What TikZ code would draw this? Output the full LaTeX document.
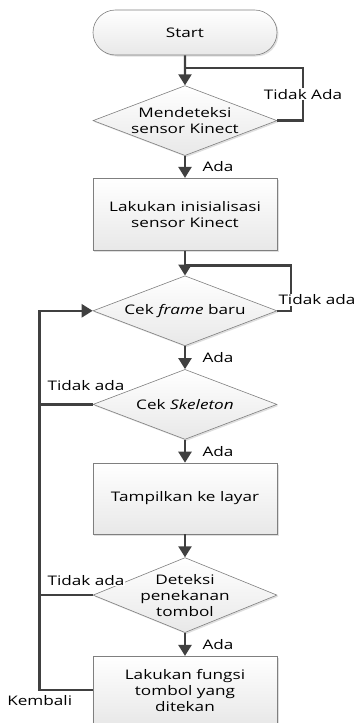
\documentclass[tikz,border=0pt]{standalone}
\usepackage{fontspec}
\setmainfont{Open Sans}[FakeStretch=1.3]
\usetikzlibrary{shapes.geometric, shapes.misc, arrows.meta, positioning, calc, shadows}
\definecolor{lineclr}{HTML}{404040}
\definecolor{edgeclr}{HTML}{7F7F7F}

\begin{document}
\begin{tikzpicture}[
    node distance=23pt,
    font=\fontsize{13.2}{16}\selectfont,
    base/.style={draw=edgeclr, line width=0.6pt, top color=white, bottom color=gray!18,
                 drop shadow={opacity=0.25, shadow xshift=1.5pt, shadow yshift=-1.5pt},
                 minimum width=184pt, inner sep=0pt, align=center},
    term/.style={base, rounded rectangle, minimum height=45pt},
    proc/.style={base, rectangle, minimum height=72pt},
    dec/.style={base, diamond, aspect=2.6, minimum height=70pt},
    arr/.style={-{Triangle[length=11pt, width=13pt]}, draw=lineclr, line width=2.4pt},
    line/.style={draw=lineclr, line width=2.4pt},
    lbl/.style={fill=white, inner sep=1pt}
]
\useasboundingbox (-185pt,32.5pt) rectangle (170pt,-690.5pt);

\node[term] (start) at (0,0) {Start};
\node[dec, below=30pt of start, label={[align=center]center:Mendeteksi\\sensor Kinect}] (detect) {};
\node[proc, below=22pt of detect] (init) {Lakukan inisialisasi\\sensor Kinect};
\node[dec, below=25pt of init, label={center:Cek \textit{frame} baru}] (frame) {};
\node[dec, below=of frame, label={center:Cek \textit{Skeleton}}] (skel) {};
\node[proc, below=of skel, minimum height=71pt] (show) {Tampilkan ke layar};
\node[dec, below=of show, minimum height=75pt, label={[align=center]center:Deteksi\\penekanan\\tombol}] (press) {};
\node[proc, below=of press, minimum height=68pt] (func) {Lakukan fungsi\\tombol yang\\ditekan};

\coordinate (j1) at ($(start.south)!0.43!(detect.north)$);
\coordinate (j2) at ($(init.south)!0.6!(frame.north)$);

% main flow
\draw[arr] (start) -- (detect);
\draw[arr] (detect) -- node[right=13pt] (a1) {Ada} (init);
\draw[arr] (init) -- (frame);
\draw[arr] (frame) -- node[right=13pt] (a2) {Ada} (skel);
\draw[arr] (skel) -- node[right=13pt] (a3) {Ada} (show);
\draw[arr] (show) -- (press);
\draw[arr] (press) -- node[right=13pt] (a4) {Ada} (func);

% loops
\draw[line] (detect.east) -| ($(j1)+(118pt,0)$) node[lbl, pos=0.75] (t1) {Tidak Ada} -- (j1);
\draw[line] (frame.east) -| ($(j2)+(106pt,0)$) -- (j2);
\node[lbl, anchor=west] (t2) at ($(frame.east)+(0pt,11pt)$) {Tidak ada};

\draw[arr] (func.west) -- ++(-53pt,0) coordinate (back) node[below=1pt] (kb) {Kembali} |- (frame.west);
\draw[line] (skel.west) -- (skel.west -| back);
\draw[line] (press.west) -- (press.west -| back);
\node[lbl, anchor=east] (t3) at ($(skel.west)+(33pt,19pt)$) {Tidak ada};
\node[lbl, anchor=east] (t4) at ($(press.west)+(33pt,15pt)$) {Tidak ada};
\end{tikzpicture}
\end{document}
